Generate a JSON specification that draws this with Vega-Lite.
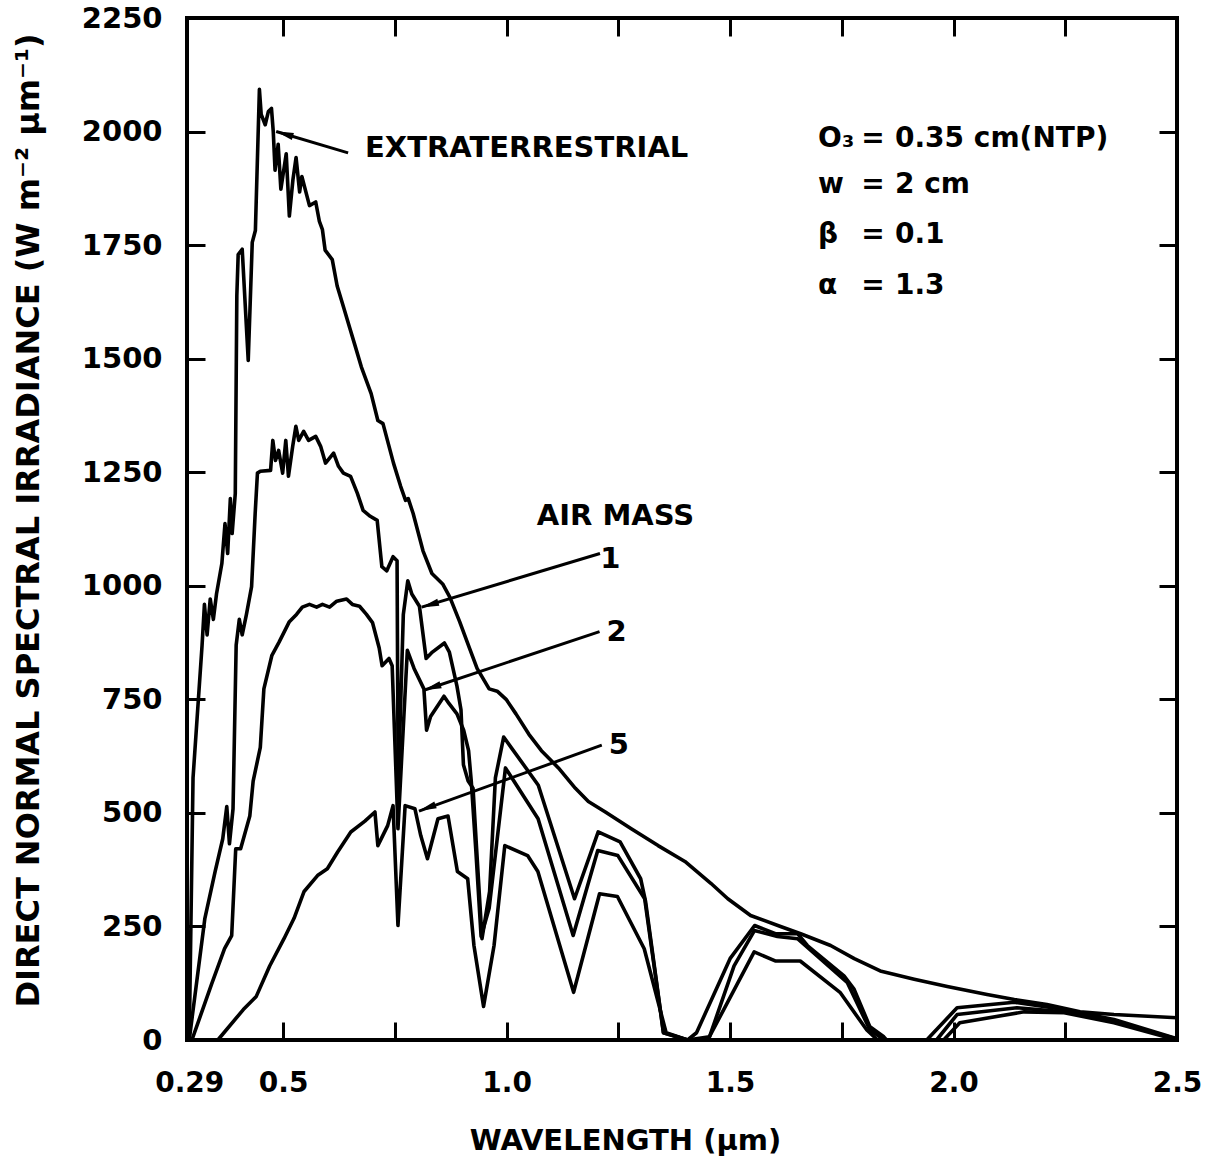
{
  "$schema": "https://vega.github.io/schema/vega-lite/v6.json",
  "width": 990,
  "height": 1022,
  "autosize": {"type": "none"},
  "padding": {"left": 187, "top": 18, "right": 34, "bottom": 120},
  "background": "white",
  "config": {
    "view": {"stroke": "black", "strokeWidth": 4},
    "font": "DejaVu Sans",
    "axis": {
      "domain": false,
      "grid": false,
      "tickColor": "black",
      "tickWidth": 3,
      "tickSize": -18,
      "labelColor": "black",
      "labelFont": "DejaVu Sans",
      "labelFontWeight": "bold",
      "labelFontSize": 29,
      "labelFlush": false,
      "labelOverlap": false,
      "titleFont": "DejaVu Sans",
      "titleFontWeight": "bold",
      "titleColor": "black"
    }
  },
  "datasets": {
    "spectra": [
      {"series": "Extraterrestrial", "wavelength": 0.29, "irradiance": 0},
      {"series": "Extraterrestrial", "wavelength": 0.2985, "irradiance": 577},
      {"series": "Extraterrestrial", "wavelength": 0.3187, "irradiance": 869},
      {"series": "Extraterrestrial", "wavelength": 0.324, "irradiance": 959},
      {"series": "Extraterrestrial", "wavelength": 0.330, "irradiance": 892},
      {"series": "Extraterrestrial", "wavelength": 0.337, "irradiance": 971},
      {"series": "Extraterrestrial", "wavelength": 0.344, "irradiance": 926},
      {"series": "Extraterrestrial", "wavelength": 0.351, "irradiance": 982},
      {"series": "Extraterrestrial", "wavelength": 0.363, "irradiance": 1049},
      {"series": "Extraterrestrial", "wavelength": 0.370, "irradiance": 1137},
      {"series": "Extraterrestrial", "wavelength": 0.376, "irradiance": 1071},
      {"series": "Extraterrestrial", "wavelength": 0.382, "irradiance": 1192},
      {"series": "Extraterrestrial", "wavelength": 0.386, "irradiance": 1115},
      {"series": "Extraterrestrial", "wavelength": 0.393, "irradiance": 1203},
      {"series": "Extraterrestrial", "wavelength": 0.3965, "irradiance": 1639},
      {"series": "Extraterrestrial", "wavelength": 0.3995, "irradiance": 1729},
      {"series": "Extraterrestrial", "wavelength": 0.4085, "irradiance": 1741},
      {"series": "Extraterrestrial", "wavelength": 0.422, "irradiance": 1496},
      {"series": "Extraterrestrial", "wavelength": 0.431, "irradiance": 1756},
      {"series": "Extraterrestrial", "wavelength": 0.438, "irradiance": 1782},
      {"series": "Extraterrestrial", "wavelength": 0.447, "irradiance": 2093},
      {"series": "Extraterrestrial", "wavelength": 0.451, "irradiance": 2038},
      {"series": "Extraterrestrial", "wavelength": 0.460, "irradiance": 2015},
      {"series": "Extraterrestrial", "wavelength": 0.467, "irradiance": 2044},
      {"series": "Extraterrestrial", "wavelength": 0.474, "irradiance": 2051},
      {"series": "Extraterrestrial", "wavelength": 0.478, "irradiance": 2000},
      {"series": "Extraterrestrial", "wavelength": 0.482, "irradiance": 1915},
      {"series": "Extraterrestrial", "wavelength": 0.489, "irradiance": 1972},
      {"series": "Extraterrestrial", "wavelength": 0.495, "irradiance": 1873},
      {"series": "Extraterrestrial", "wavelength": 0.507, "irradiance": 1951},
      {"series": "Extraterrestrial", "wavelength": 0.514, "irradiance": 1814},
      {"series": "Extraterrestrial", "wavelength": 0.522, "irradiance": 1894},
      {"series": "Extraterrestrial", "wavelength": 0.529, "irradiance": 1943},
      {"series": "Extraterrestrial", "wavelength": 0.537, "irradiance": 1867},
      {"series": "Extraterrestrial", "wavelength": 0.542, "irradiance": 1901},
      {"series": "Extraterrestrial", "wavelength": 0.559, "irradiance": 1837},
      {"series": "Extraterrestrial", "wavelength": 0.573, "irradiance": 1845},
      {"series": "Extraterrestrial", "wavelength": 0.581, "irradiance": 1803},
      {"series": "Extraterrestrial", "wavelength": 0.588, "irradiance": 1784},
      {"series": "Extraterrestrial", "wavelength": 0.594, "irradiance": 1739},
      {"series": "Extraterrestrial", "wavelength": 0.610, "irradiance": 1718},
      {"series": "Extraterrestrial", "wavelength": 0.621, "irradiance": 1660},
      {"series": "Extraterrestrial", "wavelength": 0.636, "irradiance": 1611},
      {"series": "Extraterrestrial", "wavelength": 0.649, "irradiance": 1568},
      {"series": "Extraterrestrial", "wavelength": 0.660, "irradiance": 1532},
      {"series": "Extraterrestrial", "wavelength": 0.675, "irradiance": 1482},
      {"series": "Extraterrestrial", "wavelength": 0.697, "irradiance": 1423},
      {"series": "Extraterrestrial", "wavelength": 0.712, "irradiance": 1364},
      {"series": "Extraterrestrial", "wavelength": 0.7235, "irradiance": 1357},
      {"series": "Extraterrestrial", "wavelength": 0.747, "irradiance": 1270},
      {"series": "Extraterrestrial", "wavelength": 0.763, "irradiance": 1219},
      {"series": "Extraterrestrial", "wavelength": 0.774, "irradiance": 1188},
      {"series": "Extraterrestrial", "wavelength": 0.780, "irradiance": 1192},
      {"series": "Extraterrestrial", "wavelength": 0.791, "irradiance": 1159},
      {"series": "Extraterrestrial", "wavelength": 0.813, "irradiance": 1077},
      {"series": "Extraterrestrial", "wavelength": 0.833, "irradiance": 1027},
      {"series": "Extraterrestrial", "wavelength": 0.857, "irradiance": 1004},
      {"series": "Extraterrestrial", "wavelength": 0.873, "irradiance": 975},
      {"series": "Extraterrestrial", "wavelength": 0.895, "irradiance": 921},
      {"series": "Extraterrestrial", "wavelength": 0.917, "irradiance": 863},
      {"series": "Extraterrestrial", "wavelength": 0.934, "irradiance": 818},
      {"series": "Extraterrestrial", "wavelength": 0.961, "irradiance": 773},
      {"series": "Extraterrestrial", "wavelength": 0.979, "irradiance": 768},
      {"series": "Extraterrestrial", "wavelength": 0.999, "irradiance": 750},
      {"series": "Extraterrestrial", "wavelength": 1.021, "irradiance": 718},
      {"series": "Extraterrestrial", "wavelength": 1.050, "irradiance": 673},
      {"series": "Extraterrestrial", "wavelength": 1.078, "irradiance": 637},
      {"series": "Extraterrestrial", "wavelength": 1.116, "irradiance": 599},
      {"series": "Extraterrestrial", "wavelength": 1.154, "irradiance": 554},
      {"series": "Extraterrestrial", "wavelength": 1.183, "irradiance": 525},
      {"series": "Extraterrestrial", "wavelength": 1.221, "irradiance": 502},
      {"series": "Extraterrestrial", "wavelength": 1.279, "irradiance": 465},
      {"series": "Extraterrestrial", "wavelength": 1.339, "irradiance": 428},
      {"series": "Extraterrestrial", "wavelength": 1.399, "irradiance": 393},
      {"series": "Extraterrestrial", "wavelength": 1.457, "irradiance": 345},
      {"series": "Extraterrestrial", "wavelength": 1.495, "irradiance": 311},
      {"series": "Extraterrestrial", "wavelength": 1.546, "irradiance": 274},
      {"series": "Extraterrestrial", "wavelength": 1.613, "irradiance": 250},
      {"series": "Extraterrestrial", "wavelength": 1.658, "irradiance": 234},
      {"series": "Extraterrestrial", "wavelength": 1.725, "irradiance": 208},
      {"series": "Extraterrestrial", "wavelength": 1.778, "irradiance": 179},
      {"series": "Extraterrestrial", "wavelength": 1.836, "irradiance": 152},
      {"series": "Extraterrestrial", "wavelength": 1.912, "irradiance": 134},
      {"series": "Extraterrestrial", "wavelength": 1.986, "irradiance": 118},
      {"series": "Extraterrestrial", "wavelength": 2.075, "irradiance": 100},
      {"series": "Extraterrestrial", "wavelength": 2.136, "irradiance": 89},
      {"series": "Extraterrestrial", "wavelength": 2.209, "irradiance": 78},
      {"series": "Extraterrestrial", "wavelength": 2.283, "irradiance": 62},
      {"series": "Extraterrestrial", "wavelength": 2.359, "irradiance": 56},
      {"series": "Extraterrestrial", "wavelength": 2.5, "irradiance": 49},

      {"series": "Air mass 1", "wavelength": 0.29, "irradiance": 0},
      {"series": "Air mass 1", "wavelength": 0.325, "irradiance": 268},
      {"series": "Air mass 1", "wavelength": 0.348, "irradiance": 371},
      {"series": "Air mass 1", "wavelength": 0.365, "irradiance": 443},
      {"series": "Air mass 1", "wavelength": 0.374, "irradiance": 514},
      {"series": "Air mass 1", "wavelength": 0.380, "irradiance": 432},
      {"series": "Air mass 1", "wavelength": 0.388, "irradiance": 509},
      {"series": "Air mass 1", "wavelength": 0.395, "irradiance": 869},
      {"series": "Air mass 1", "wavelength": 0.402, "irradiance": 926},
      {"series": "Air mass 1", "wavelength": 0.4085, "irradiance": 892},
      {"series": "Air mass 1", "wavelength": 0.418, "irradiance": 937},
      {"series": "Air mass 1", "wavelength": 0.4295, "irradiance": 998},
      {"series": "Air mass 1", "wavelength": 0.4375, "irradiance": 1159},
      {"series": "Air mass 1", "wavelength": 0.4426, "irradiance": 1248},
      {"series": "Air mass 1", "wavelength": 0.449, "irradiance": 1252},
      {"series": "Air mass 1", "wavelength": 0.472, "irradiance": 1254},
      {"series": "Air mass 1", "wavelength": 0.477, "irradiance": 1320},
      {"series": "Air mass 1", "wavelength": 0.483, "irradiance": 1276},
      {"series": "Air mass 1", "wavelength": 0.490, "irradiance": 1298},
      {"series": "Air mass 1", "wavelength": 0.499, "irradiance": 1248},
      {"series": "Air mass 1", "wavelength": 0.506, "irradiance": 1320},
      {"series": "Air mass 1", "wavelength": 0.512, "irradiance": 1241},
      {"series": "Air mass 1", "wavelength": 0.5215, "irradiance": 1307},
      {"series": "Air mass 1", "wavelength": 0.5286, "irradiance": 1351},
      {"series": "Air mass 1", "wavelength": 0.535, "irradiance": 1320},
      {"series": "Air mass 1", "wavelength": 0.546, "irradiance": 1340},
      {"series": "Air mass 1", "wavelength": 0.557, "irradiance": 1320},
      {"series": "Air mass 1", "wavelength": 0.573, "irradiance": 1329},
      {"series": "Air mass 1", "wavelength": 0.584, "irradiance": 1307},
      {"series": "Air mass 1", "wavelength": 0.595, "irradiance": 1270},
      {"series": "Air mass 1", "wavelength": 0.613, "irradiance": 1292},
      {"series": "Air mass 1", "wavelength": 0.624, "irradiance": 1263},
      {"series": "Air mass 1", "wavelength": 0.635, "irradiance": 1248},
      {"series": "Air mass 1", "wavelength": 0.651, "irradiance": 1241},
      {"series": "Air mass 1", "wavelength": 0.666, "irradiance": 1204},
      {"series": "Air mass 1", "wavelength": 0.679, "irradiance": 1166},
      {"series": "Air mass 1", "wavelength": 0.695, "irradiance": 1153},
      {"series": "Air mass 1", "wavelength": 0.7105, "irradiance": 1144},
      {"series": "Air mass 1", "wavelength": 0.721, "irradiance": 1042},
      {"series": "Air mass 1", "wavelength": 0.732, "irradiance": 1033},
      {"series": "Air mass 1", "wavelength": 0.746, "irradiance": 1064},
      {"series": "Air mass 1", "wavelength": 0.755, "irradiance": 1055},
      {"series": "Air mass 1", "wavelength": 0.7575, "irradiance": 554},
      {"series": "Air mass 1", "wavelength": 0.769, "irradiance": 937},
      {"series": "Air mass 1", "wavelength": 0.779, "irradiance": 1011},
      {"series": "Air mass 1", "wavelength": 0.788, "irradiance": 982},
      {"series": "Air mass 1", "wavelength": 0.805, "irradiance": 955},
      {"series": "Air mass 1", "wavelength": 0.820, "irradiance": 840},
      {"series": "Air mass 1", "wavelength": 0.834, "irradiance": 854},
      {"series": "Air mass 1", "wavelength": 0.861, "irradiance": 874},
      {"series": "Air mass 1", "wavelength": 0.872, "irradiance": 854},
      {"series": "Air mass 1", "wavelength": 0.889, "irradiance": 779},
      {"series": "Air mass 1", "wavelength": 0.898, "irradiance": 727},
      {"series": "Air mass 1", "wavelength": 0.9035, "irradiance": 606},
      {"series": "Air mass 1", "wavelength": 0.914, "irradiance": 570},
      {"series": "Air mass 1", "wavelength": 0.925, "irradiance": 554},
      {"series": "Air mass 1", "wavelength": 0.933, "irradiance": 421},
      {"series": "Air mass 1", "wavelength": 0.945, "irradiance": 223},
      {"series": "Air mass 1", "wavelength": 0.962, "irradiance": 327},
      {"series": "Air mass 1", "wavelength": 0.975, "irradiance": 577},
      {"series": "Air mass 1", "wavelength": 0.9935, "irradiance": 667},
      {"series": "Air mass 1", "wavelength": 1.071, "irradiance": 561},
      {"series": "Air mass 1", "wavelength": 1.152, "irradiance": 311},
      {"series": "Air mass 1", "wavelength": 1.205, "irradiance": 458},
      {"series": "Air mass 1", "wavelength": 1.254, "irradiance": 436},
      {"series": "Air mass 1", "wavelength": 1.300, "irradiance": 355},
      {"series": "Air mass 1", "wavelength": 1.311, "irradiance": 305},
      {"series": "Air mass 1", "wavelength": 1.351, "irradiance": 16},
      {"series": "Air mass 1", "wavelength": 1.405, "irradiance": 0},
      {"series": "Air mass 1", "wavelength": 1.425, "irradiance": 16},
      {"series": "Air mass 1", "wavelength": 1.500, "irradiance": 179},
      {"series": "Air mass 1", "wavelength": 1.555, "irradiance": 252},
      {"series": "Air mass 1", "wavelength": 1.6015, "irradiance": 234},
      {"series": "Air mass 1", "wavelength": 1.651, "irradiance": 234},
      {"series": "Air mass 1", "wavelength": 1.673, "irradiance": 208},
      {"series": "Air mass 1", "wavelength": 1.755, "irradiance": 141},
      {"series": "Air mass 1", "wavelength": 1.7775, "irradiance": 112},
      {"series": "Air mass 1", "wavelength": 1.813, "irradiance": 29},
      {"series": "Air mass 1", "wavelength": 1.844, "irradiance": 7},
      {"series": "Air mass 1", "wavelength": 1.85, "irradiance": 0},
      {"series": "Air mass 1", "wavelength": 1.94, "irradiance": 0},
      {"series": "Air mass 1", "wavelength": 2.008, "irradiance": 71},
      {"series": "Air mass 1", "wavelength": 2.136, "irradiance": 83},
      {"series": "Air mass 1", "wavelength": 2.2475, "irradiance": 67},
      {"series": "Air mass 1", "wavelength": 2.359, "irradiance": 45},
      {"series": "Air mass 1", "wavelength": 2.5, "irradiance": 3},

      {"series": "Air mass 2", "wavelength": 0.296, "irradiance": 0},
      {"series": "Air mass 2", "wavelength": 0.340, "irradiance": 123},
      {"series": "Air mass 2", "wavelength": 0.369, "irradiance": 201},
      {"series": "Air mass 2", "wavelength": 0.385, "irradiance": 230},
      {"series": "Air mass 2", "wavelength": 0.394, "irradiance": 421},
      {"series": "Air mass 2", "wavelength": 0.405, "irradiance": 421},
      {"series": "Air mass 2", "wavelength": 0.4255, "irradiance": 493},
      {"series": "Air mass 2", "wavelength": 0.433, "irradiance": 570},
      {"series": "Air mass 2", "wavelength": 0.449, "irradiance": 644},
      {"series": "Air mass 2", "wavelength": 0.457, "irradiance": 773},
      {"series": "Air mass 2", "wavelength": 0.475, "irradiance": 847},
      {"series": "Air mass 2", "wavelength": 0.491, "irradiance": 876},
      {"series": "Air mass 2", "wavelength": 0.514, "irradiance": 921},
      {"series": "Air mass 2", "wavelength": 0.530, "irradiance": 937},
      {"series": "Air mass 2", "wavelength": 0.543, "irradiance": 953},
      {"series": "Air mass 2", "wavelength": 0.559, "irradiance": 959},
      {"series": "Air mass 2", "wavelength": 0.575, "irradiance": 953},
      {"series": "Air mass 2", "wavelength": 0.588, "irradiance": 959},
      {"series": "Air mass 2", "wavelength": 0.604, "irradiance": 953},
      {"series": "Air mass 2", "wavelength": 0.620, "irradiance": 966},
      {"series": "Air mass 2", "wavelength": 0.642, "irradiance": 971},
      {"series": "Air mass 2", "wavelength": 0.655, "irradiance": 959},
      {"series": "Air mass 2", "wavelength": 0.671, "irradiance": 955},
      {"series": "Air mass 2", "wavelength": 0.6865, "irradiance": 937},
      {"series": "Air mass 2", "wavelength": 0.700, "irradiance": 919},
      {"series": "Air mass 2", "wavelength": 0.715, "irradiance": 863},
      {"series": "Air mass 2", "wavelength": 0.7215, "irradiance": 824},
      {"series": "Air mass 2", "wavelength": 0.737, "irradiance": 840},
      {"series": "Air mass 2", "wavelength": 0.744, "irradiance": 824},
      {"series": "Air mass 2", "wavelength": 0.757, "irradiance": 465},
      {"series": "Air mass 2", "wavelength": 0.778, "irradiance": 858},
      {"series": "Air mass 2", "wavelength": 0.793, "irradiance": 818},
      {"series": "Air mass 2", "wavelength": 0.815, "irradiance": 773},
      {"series": "Air mass 2", "wavelength": 0.821, "irradiance": 682},
      {"series": "Air mass 2", "wavelength": 0.830, "irradiance": 712},
      {"series": "Air mass 2", "wavelength": 0.860, "irradiance": 757},
      {"series": "Air mass 2", "wavelength": 0.871, "irradiance": 741},
      {"series": "Air mass 2", "wavelength": 0.889, "irradiance": 718},
      {"series": "Air mass 2", "wavelength": 0.904, "irradiance": 682},
      {"series": "Air mass 2", "wavelength": 0.915, "irradiance": 637},
      {"series": "Air mass 2", "wavelength": 0.921, "irradiance": 570},
      {"series": "Air mass 2", "wavelength": 0.931, "irradiance": 421},
      {"series": "Air mass 2", "wavelength": 0.943, "irradiance": 228},
      {"series": "Air mass 2", "wavelength": 0.961, "irradiance": 290},
      {"series": "Air mass 2", "wavelength": 0.9975, "irradiance": 599},
      {"series": "Air mass 2", "wavelength": 1.0705, "irradiance": 487},
      {"series": "Air mass 2", "wavelength": 1.149, "irradiance": 230},
      {"series": "Air mass 2", "wavelength": 1.204, "irradiance": 417},
      {"series": "Air mass 2", "wavelength": 1.249, "irradiance": 406},
      {"series": "Air mass 2", "wavelength": 1.309, "irradiance": 311},
      {"series": "Air mass 2", "wavelength": 1.351, "irradiance": 16},
      {"series": "Air mass 2", "wavelength": 1.405, "irradiance": 0},
      {"series": "Air mass 2", "wavelength": 1.454, "irradiance": 7},
      {"series": "Air mass 2", "wavelength": 1.509, "irradiance": 163},
      {"series": "Air mass 2", "wavelength": 1.5545, "irradiance": 241},
      {"series": "Air mass 2", "wavelength": 1.606, "irradiance": 228},
      {"series": "Air mass 2", "wavelength": 1.651, "irradiance": 223},
      {"series": "Air mass 2", "wavelength": 1.762, "irradiance": 127},
      {"series": "Air mass 2", "wavelength": 1.813, "irradiance": 22},
      {"series": "Air mass 2", "wavelength": 1.835, "irradiance": 7},
      {"series": "Air mass 2", "wavelength": 1.845, "irradiance": 0},
      {"series": "Air mass 2", "wavelength": 1.962, "irradiance": 0},
      {"series": "Air mass 2", "wavelength": 2.008, "irradiance": 56},
      {"series": "Air mass 2", "wavelength": 2.142, "irradiance": 71},
      {"series": "Air mass 2", "wavelength": 2.2475, "irradiance": 62},
      {"series": "Air mass 2", "wavelength": 2.359, "irradiance": 40},
      {"series": "Air mass 2", "wavelength": 2.5, "irradiance": 2},

      {"series": "Air mass 5", "wavelength": 0.354, "irradiance": 0},
      {"series": "Air mass 5", "wavelength": 0.411, "irradiance": 67},
      {"series": "Air mass 5", "wavelength": 0.440, "irradiance": 96},
      {"series": "Air mass 5", "wavelength": 0.470, "irradiance": 163},
      {"series": "Air mass 5", "wavelength": 0.502, "irradiance": 223},
      {"series": "Air mass 5", "wavelength": 0.5245, "irradiance": 268},
      {"series": "Air mass 5", "wavelength": 0.547, "irradiance": 327},
      {"series": "Air mass 5", "wavelength": 0.577, "irradiance": 362},
      {"series": "Air mass 5", "wavelength": 0.599, "irradiance": 377},
      {"series": "Air mass 5", "wavelength": 0.622, "irradiance": 414},
      {"series": "Air mass 5", "wavelength": 0.6515, "irradiance": 458},
      {"series": "Air mass 5", "wavelength": 0.683, "irradiance": 482},
      {"series": "Air mass 5", "wavelength": 0.7055, "irradiance": 502},
      {"series": "Air mass 5", "wavelength": 0.712, "irradiance": 428},
      {"series": "Air mass 5", "wavelength": 0.734, "irradiance": 472},
      {"series": "Air mass 5", "wavelength": 0.746, "irradiance": 516},
      {"series": "Air mass 5", "wavelength": 0.757, "irradiance": 252},
      {"series": "Air mass 5", "wavelength": 0.773, "irradiance": 516},
      {"series": "Air mass 5", "wavelength": 0.795, "irradiance": 509},
      {"series": "Air mass 5", "wavelength": 0.808, "irradiance": 450},
      {"series": "Air mass 5", "wavelength": 0.823, "irradiance": 399},
      {"series": "Air mass 5", "wavelength": 0.8465, "irradiance": 487},
      {"series": "Air mass 5", "wavelength": 0.869, "irradiance": 493},
      {"series": "Air mass 5", "wavelength": 0.890, "irradiance": 371},
      {"series": "Air mass 5", "wavelength": 0.913, "irradiance": 355},
      {"series": "Air mass 5", "wavelength": 0.927, "irradiance": 208},
      {"series": "Air mass 5", "wavelength": 0.9485, "irradiance": 74},
      {"series": "Air mass 5", "wavelength": 0.972, "irradiance": 208},
      {"series": "Air mass 5", "wavelength": 0.996, "irradiance": 428},
      {"series": "Air mass 5", "wavelength": 1.047, "irradiance": 406},
      {"series": "Air mass 5", "wavelength": 1.070, "irradiance": 371},
      {"series": "Air mass 5", "wavelength": 1.150, "irradiance": 105},
      {"series": "Air mass 5", "wavelength": 1.208, "irradiance": 322},
      {"series": "Air mass 5", "wavelength": 1.248, "irradiance": 316},
      {"series": "Air mass 5", "wavelength": 1.308, "irradiance": 201},
      {"series": "Air mass 5", "wavelength": 1.357, "irradiance": 16},
      {"series": "Air mass 5", "wavelength": 1.405, "irradiance": 0},
      {"series": "Air mass 5", "wavelength": 1.45, "irradiance": 0},
      {"series": "Air mass 5", "wavelength": 1.554, "irradiance": 194},
      {"series": "Air mass 5", "wavelength": 1.601, "irradiance": 174},
      {"series": "Air mass 5", "wavelength": 1.657, "irradiance": 174},
      {"series": "Air mass 5", "wavelength": 1.746, "irradiance": 105},
      {"series": "Air mass 5", "wavelength": 1.806, "irradiance": 22},
      {"series": "Air mass 5", "wavelength": 1.83, "irradiance": 0},
      {"series": "Air mass 5", "wavelength": 1.978, "irradiance": 0},
      {"series": "Air mass 5", "wavelength": 2.014, "irradiance": 38},
      {"series": "Air mass 5", "wavelength": 2.158, "irradiance": 62},
      {"series": "Air mass 5", "wavelength": 2.2475, "irradiance": 60},
      {"series": "Air mass 5", "wavelength": 2.359, "irradiance": 38},
      {"series": "Air mass 5", "wavelength": 2.5, "irradiance": 0}
    ],
    "arrows": [
      {"label": "EXTRATERRESTRIAL", "x0": 0.6455, "y0": 1953, "x1": 0.4846, "y1": 2000, "hx": 0.5027, "hy": 1995},
      {"label": "1", "x0": 1.209, "y0": 1071, "x1": 0.810, "y1": 953, "hx": 0.828, "hy": 958},
      {"label": "2", "x0": 1.208, "y0": 899, "x1": 0.815, "y1": 770, "hx": 0.8333, "hy": 776},
      {"label": "5", "x0": 1.213, "y0": 649, "x1": 0.804, "y1": 504, "hx": 0.822, "hy": 511}
    ],
    "callouts": [
      {"text": "EXTRATERRESTRIAL", "x": 1.045, "y": 1963},
      {"text": "AIR MASS", "x": 1.2436, "y": 1153},
      {"text": "1", "x": 1.232, "y": 1060},
      {"text": "2", "x": 1.246, "y": 899},
      {"text": "5", "x": 1.251, "y": 649}
    ],
    "params": [
      {"symbol": "O₃", "value": "0.35 cm(NTP)", "y": 1983},
      {"symbol": "w", "value": "2 cm", "y": 1883},
      {"symbol": "β", "value": "0.1", "y": 1773},
      {"symbol": "α", "value": "1.3", "y": 1660}
    ]
  },
  "layer": [
    {
      "data": {"name": "spectra"},
      "mark": {"type": "line", "color": "black", "strokeWidth": 3.6, "strokeJoin": "round", "strokeCap": "round"},
      "encoding": {
        "x": {
          "field": "wavelength", "type": "quantitative",
          "scale": {"domain": [0.285, 2.5], "nice": false, "zero": false},
          "axis": {
            "orient": "bottom",
            "values": [0.29, 0.5, 0.75, 1, 1.25, 1.5, 1.75, 2, 2.25, 2.5],
            "labelExpr": "datum.value == 0.29 ? '0.29' : (datum.value == 0.75 || datum.value == 1.25 || datum.value == 1.75 || datum.value == 2.25) ? '' : format(datum.value, '.1f')",
            "labelFontSize": 28,
            "labelPadding": 47,
            "title": "WAVELENGTH  (μm)",
            "titleFontSize": 29,
            "titleX": 438,
            "titleY": 100,
            "titleAlign": "center",
            "titleBaseline": "middle"
          }
        },
        "y": {
          "field": "irradiance", "type": "quantitative",
          "scale": {"domain": [0, 2250], "nice": false, "zero": false},
          "axis": {
            "orient": "left",
            "values": [0, 250, 500, 750, 1000, 1250, 1500, 1750, 2000, 2250],
            "format": "d",
            "labelPadding": 43,
            "labelBaseline": "middle",
            "title": "DIRECT NORMAL SPECTRAL IRRADIANCE (W m⁻² μm⁻¹)",
            "titleFontSize": 32,
            "titleAngle": -90,
            "titleX": -159,
            "titleY": 502,
            "titleAlign": "center",
            "titleBaseline": "middle"
          }
        },
        "detail": {"field": "series"}
      }
    },
    {
      "data": {"name": "arrows"},
      "mark": {"type": "rule", "color": "black", "strokeWidth": 3},
      "encoding": {
        "x": {
          "field": "x0", "type": "quantitative",
          "scale": {"domain": [0.285, 2.5], "nice": false, "zero": false},
          "axis": {"orient": "top", "values": [0.5, 0.75, 1, 1.25, 1.5, 1.75, 2, 2.25], "labels": false, "title": null}
        },
        "y": {
          "field": "y0", "type": "quantitative",
          "scale": {"domain": [0, 2250], "nice": false, "zero": false},
          "axis": {"orient": "right", "values": [250, 500, 750, 1000, 1250, 1500, 1750, 2000], "labels": false, "title": null}
        },
        "x2": {"field": "x1"},
        "y2": {"field": "y1"}
      }
    },
    {
      "data": {"name": "arrows"},
      "transform": [{"filter": "datum.label == 'EXTRATERRESTRIAL'"}],
      "mark": {"type": "point", "shape": "M-1,0L1,-0.4L1,0.4Z", "filled": true, "color": "black", "opacity": 1, "size": 324, "angle": 17},
      "encoding": {
        "x": {"field": "hx", "type": "quantitative", "axis": null},
        "y": {"field": "hy", "type": "quantitative", "axis": null}
      }
    },
    {
      "data": {"name": "arrows"},
      "transform": [{"filter": "datum.label == '1'"}],
      "mark": {"type": "point", "shape": "M-1,0L1,-0.4L1,0.4Z", "filled": true, "color": "black", "opacity": 1, "size": 324, "angle": 343.4},
      "encoding": {
        "x": {"field": "hx", "type": "quantitative", "axis": null},
        "y": {"field": "hy", "type": "quantitative", "axis": null}
      }
    },
    {
      "data": {"name": "arrows"},
      "transform": [{"filter": "datum.label == '2'"}],
      "mark": {"type": "point", "shape": "M-1,0L1,-0.4L1,0.4Z", "filled": true, "color": "black", "opacity": 1, "size": 324, "angle": 342},
      "encoding": {
        "x": {"field": "hx", "type": "quantitative", "axis": null},
        "y": {"field": "hy", "type": "quantitative", "axis": null}
      }
    },
    {
      "data": {"name": "arrows"},
      "transform": [{"filter": "datum.label == '5'"}],
      "mark": {"type": "point", "shape": "M-1,0L1,-0.4L1,0.4Z", "filled": true, "color": "black", "opacity": 1, "size": 324, "angle": 340.6},
      "encoding": {
        "x": {"field": "hx", "type": "quantitative", "axis": null},
        "y": {"field": "hy", "type": "quantitative", "axis": null}
      }
    },
    {
      "data": {"name": "callouts"},
      "mark": {"type": "text", "font": "DejaVu Sans", "fontWeight": "bold", "fontSize": 29, "align": "center", "baseline": "middle", "color": "black"},
      "encoding": {
        "x": {"field": "x", "type": "quantitative", "axis": null},
        "y": {"field": "y", "type": "quantitative", "axis": null},
        "text": {"field": "text"}
      }
    },
    {
      "data": {"name": "params"},
      "mark": {"type": "text", "font": "DejaVu Sans", "fontWeight": "bold", "fontSize": 28, "align": "left", "baseline": "middle", "color": "black"},
      "encoding": {
        "x": {"datum": 1.697, "type": "quantitative", "axis": null},
        "y": {"field": "y", "type": "quantitative", "axis": null},
        "text": {"field": "symbol"}
      }
    },
    {
      "data": {"name": "params"},
      "mark": {"type": "text", "font": "DejaVu Sans", "fontWeight": "bold", "fontSize": 28, "align": "center", "baseline": "middle", "color": "black", "text": "="},
      "encoding": {
        "x": {"datum": 1.82, "type": "quantitative", "axis": null},
        "y": {"field": "y", "type": "quantitative", "axis": null}
      }
    },
    {
      "data": {"name": "params"},
      "mark": {"type": "text", "font": "DejaVu Sans", "fontWeight": "bold", "fontSize": 28, "align": "left", "baseline": "middle", "color": "black"},
      "encoding": {
        "x": {"datum": 1.869, "type": "quantitative", "axis": null},
        "y": {"field": "y", "type": "quantitative", "axis": null},
        "text": {"field": "value"}
      }
    }
  ],
  "resolve": {"axis": {"x": "independent", "y": "independent"}}
}
